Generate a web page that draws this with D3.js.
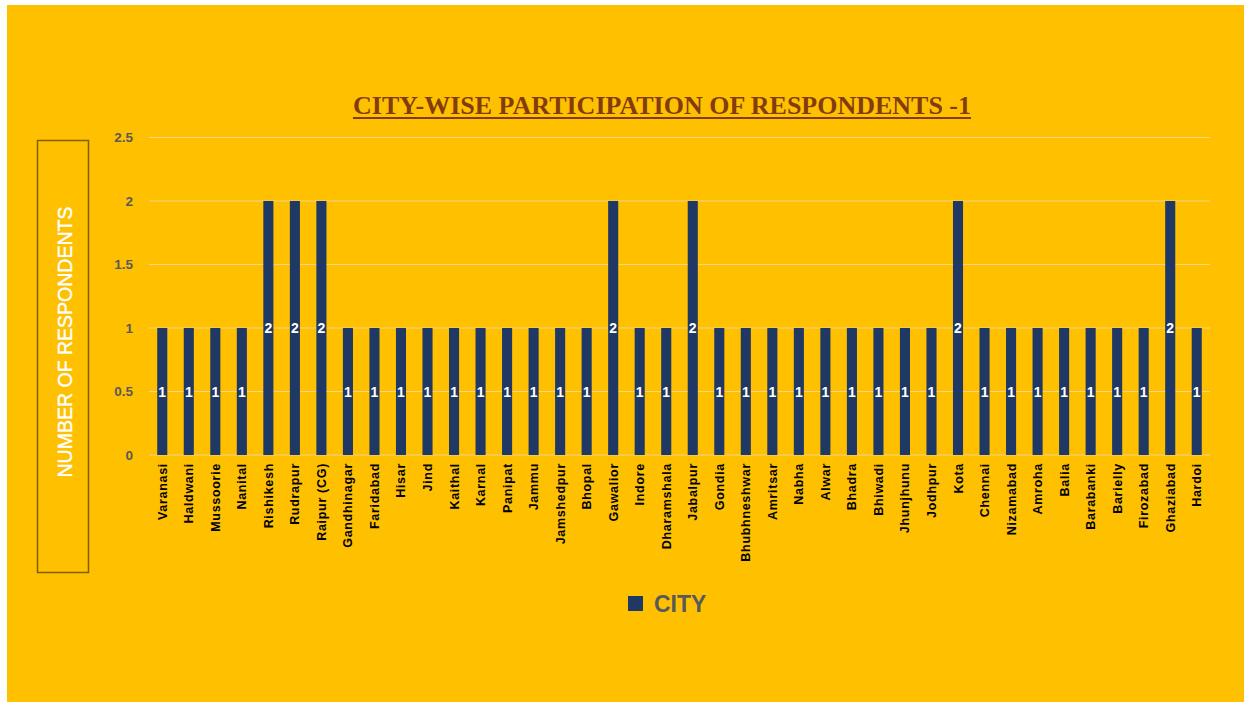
<!DOCTYPE html>
<html>
<head>
<meta charset="utf-8">
<script src="https://cdn.jsdelivr.net/npm/d3@7"></script>
<style>
  html, body { margin: 0; padding: 0; background: #ffffff; }
  svg { display: block; }
</style>
</head>
<body>
<svg id="chart" width="1244" height="702"></svg>
<script>
const cities = ["Varanasi","Haldwani","Mussoorie","Nanital","Rishikesh","Rudrapur","Raipur (CG)","Gandhinagar","Faridabad","Hisar","Jind","Kaithal","Karnal","Panipat","Jammu","Jamshedpur","Bhopal","Gawalior","Indore","Dharamshala","Jabalpur","Gondia","Bhubhneshwar","Amritsar","Nabha","Alwar","Bhadra","Bhiwadi","Jhunjhunu","Jodhpur","Kota","Chennai","Nizamabad","Amroha","Balia","Barabanki","Barielly","Firozabad","Ghaziabad","Hardoi"];
const respondents = [1,1,1,1,2,2,2,1,1,1,1,1,1,1,1,1,1,2,1,1,2,1,1,1,1,1,1,1,1,1,2,1,1,1,1,1,1,1,2,1];
const yTicks = [0,0.5,1,1.5,2,2.5];
const seriesName = "CITY";
const titleText = "CITY-WISE PARTICIPATION OF RESPONDENTS -1";
const yAxisTitle = "NUMBER OF RESPONDENTS";

(function () {
const svg = d3.select("#chart");
const W = 1244, H = 702;
const bg = "#FFC000", barColor = "#203864";

svg.append("rect").attr("x", 7).attr("y", 5).attr("width", W - 7).attr("height", H - 5).attr("fill", bg);

const pLeft = 149, pRight = 1210, pTop = 137.5, pBottom = 455;
const x = d3.scaleBand().domain(cities).range([pLeft, pRight]).paddingInner(0.62).paddingOuter(0.31);
const y = d3.scaleLinear().domain([0, 2.5]).range([pBottom, pTop]);

// gridlines
svg.append("g").selectAll("line").data(yTicks).join("line")
  .attr("x1", pLeft).attr("x2", pRight)
  .attr("y1", d => y(d)).attr("y2", d => y(d))
  .attr("stroke", "#F4D68A").attr("stroke-width", 1.2);

// y axis
const yAxis = d3.axisLeft(y).tickValues(yTicks).tickSize(0).tickPadding(0).tickFormat(d3.format("~g"));
const yg = svg.append("g").attr("transform", `translate(133,0)`).call(yAxis);
yg.select(".domain").remove();
yg.selectAll("text").attr("fill", "#595959").attr("font-family", "Liberation Sans, Arial, sans-serif")
  .attr("font-size", 13.5).attr("font-weight", "bold");

// bars
svg.append("g").selectAll("rect").data(cities).join("rect")
  .attr("x", d => x(d)).attr("width", x.bandwidth())
  .attr("y", (d, i) => y(respondents[i])).attr("height", (d, i) => y(0) - y(respondents[i]))
  .attr("fill", barColor);

// data labels
svg.append("g").selectAll("text").data(cities).join("text")
  .attr("x", d => x(d) + x.bandwidth() / 2)
  .attr("y", (d, i) => y(respondents[i] / 2))
  .attr("dy", "0.36em")
  .attr("text-anchor", "middle")
  .attr("fill", "#ffffff").attr("font-family", "Liberation Sans, Arial, sans-serif")
  .attr("font-size", 14).attr("font-weight", "bold")
  .text((d, i) => respondents[i]);

// x axis labels
const xAxis = d3.axisBottom(x).tickSize(0).tickPadding(0);
const xg = svg.append("g").attr("transform", `translate(0,${pBottom})`).call(xAxis);
xg.select(".domain").remove();
xg.selectAll("text")
  .attr("transform", "translate(0,8) rotate(-90)")
  .attr("text-anchor", "end").attr("x", 0).attr("y", 0).attr("dy", "0.36em")
  .attr("fill", "#000000").attr("font-family", "Liberation Sans, Arial, sans-serif")
  .attr("font-size", 12.5).attr("font-weight", "bold").attr("letter-spacing", 0.7);

// title
svg.append("text")
  .attr("x", 353).attr("y", 114)
  .attr("textLength", 618).attr("lengthAdjust", "spacingAndGlyphs")
  .attr("fill", "#843C0C").attr("font-family", "Liberation Serif, Times New Roman, serif")
  .attr("font-size", 26).attr("font-weight", "bold")
  .text(titleText);
svg.append("line").attr("x1", 353).attr("x2", 971).attr("y1", 118).attr("y2", 118)
  .attr("stroke", "#843C0C").attr("stroke-width", 2);

// y axis title box
svg.append("rect").attr("x", 37.5).attr("y", 140.5).attr("width", 51).attr("height", 432)
  .attr("fill", "none").attr("stroke", "#7F6000").attr("stroke-width", 1.5);
svg.append("text")
  .attr("transform", "translate(65,342) rotate(-90)")
  .attr("text-anchor", "middle").attr("dy", "0.36em")
  .attr("textLength", 271).attr("lengthAdjust", "spacingAndGlyphs")
  .attr("fill", "#ffffff").attr("font-family", "Liberation Sans, Arial, sans-serif")
  .attr("font-size", 20).attr("stroke", "#ffffff").attr("stroke-width", 0.4)
  .text(yAxisTitle);

// legend
svg.append("rect").attr("x", 628).attr("y", 596).attr("width", 15).attr("height", 15).attr("fill", barColor);
svg.append("text").attr("x", 654).attr("y", 612)
  .attr("fill", "#595959").attr("font-family", "Liberation Sans, Arial, sans-serif")
  .attr("font-size", 23).attr("font-weight", "bold")
  .text(seriesName);
})();
</script>
</body>
</html>
